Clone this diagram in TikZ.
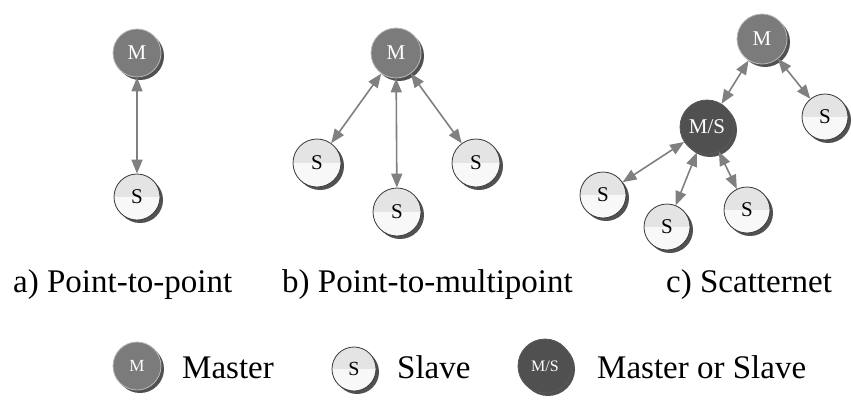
\documentclass[tikz,border=0pt]{standalone}
\usepackage{fontspec}
\setmainfont{Liberation Serif}
\usetikzlibrary{arrows.meta,shadows}
\definecolor{mfill}{HTML}{7B7B7B}
\definecolor{msfill}{HTML}{505050}
\definecolor{stop}{HTML}{E4E4E4}
\definecolor{sbot}{HTML}{F8F8F8}
\definecolor{arrgray}{HTML}{808080}
\begin{document}
\begin{tikzpicture}[x=1pt,y=-1pt,
  shad/.style={drop shadow={shadow xshift=3pt,shadow yshift=-3pt,fill=black!80,opacity=0.85}},
  mnode/.style={circle,inner sep=0pt,minimum size=#1,fill=mfill,draw=gray!55,line width=0.8pt,text=white,shad,font=\fontsize{21}{21}\selectfont},
  mnode/.default=48pt,
  snode/.style={circle,inner sep=0pt,minimum size=#1,fill=stop,draw=gray!45!black,line width=0.8pt,text=black,shad,
    path picture={\fill[sbot] (path picture bounding box.west) rectangle (path picture bounding box.south east);},
    font=\fontsize{21}{21}\selectfont},
  snode/.default=46pt,
  msnode/.style={circle,inner sep=0pt,minimum size=#1,fill=msfill,draw=gray!70!black,line width=0.8pt,text=white,shad,font=\fontsize{21}{21}\selectfont},
  msnode/.default=54pt,
  link/.style={draw=arrgray,line width=1.6pt,{Triangle[length=14pt,width=11pt]}-{Triangle[length=14pt,width=11pt]}},
  caption/.style={anchor=base west,inner sep=0pt,font=\fontsize{33}{33}\selectfont}
]
\useasboundingbox[fill=white] (0,0) rectangle (853,399);

% a) point-to-point
\node[mnode] (aM) at (137,53) {M};
\node[snode] (aS) at (137,197) {S};
\draw[link] (aM) -- (aS);

% b) point-to-multipoint
\node[mnode=50pt] (bM) at (396,53) {M};
\node[snode=48pt] (bS1) at (317,163) {S};
\node[snode=48pt] (bS2) at (397,212) {S};
\node[snode=48pt] (bS3) at (476,163) {S};
\draw[link] (bM) -- (bS1);
\draw[link] (bM) -- (bS2);
\draw[link] (bM) -- (bS3);

% c) scatternet
\node[mnode=50pt] (cM) at (762,39) {M};
\node[msnode] (cMS) at (707,127) {M/S};
\node[snode] (cS0) at (825,117) {S};
\node[snode] (cS1) at (603,195) {S};
\node[snode] (cS2) at (667,227) {S};
\node[snode] (cS3) at (747,210) {S};
\draw[link] (cM) -- (cMS);
\draw[link] (cM) -- (cS0);
\draw[link] (cMS) -- (cS1);
\draw[link] (cMS) -- (cS2);
\draw[link] (cMS) -- (cS3);

% captions
\node[caption] (capa) at (13,292) {a) Point-to-point};
\node[caption] (capb) at (282,292) {b) Point-to-multipoint};
\node[caption] (capc) at (666,292) {c) Scatternet};

% legend
\node[mnode=48pt,font=\fontsize{17}{17}\selectfont] (lM) at (137,366) {M};
\node[caption] (lMt) at (182,378) {Master};
\node[snode=44pt,font=\fontsize{20}{20}\selectfont] (lS) at (354,369) {S};
\node[caption] (lSt) at (397,378) {Slave};
\node[msnode=54pt,font=\fontsize{16}{16}\selectfont] (lMS) at (545,366) {M/S};
\node[caption] (lMSt) at (597,378) {Master or Slave};
\end{tikzpicture}
\end{document}
